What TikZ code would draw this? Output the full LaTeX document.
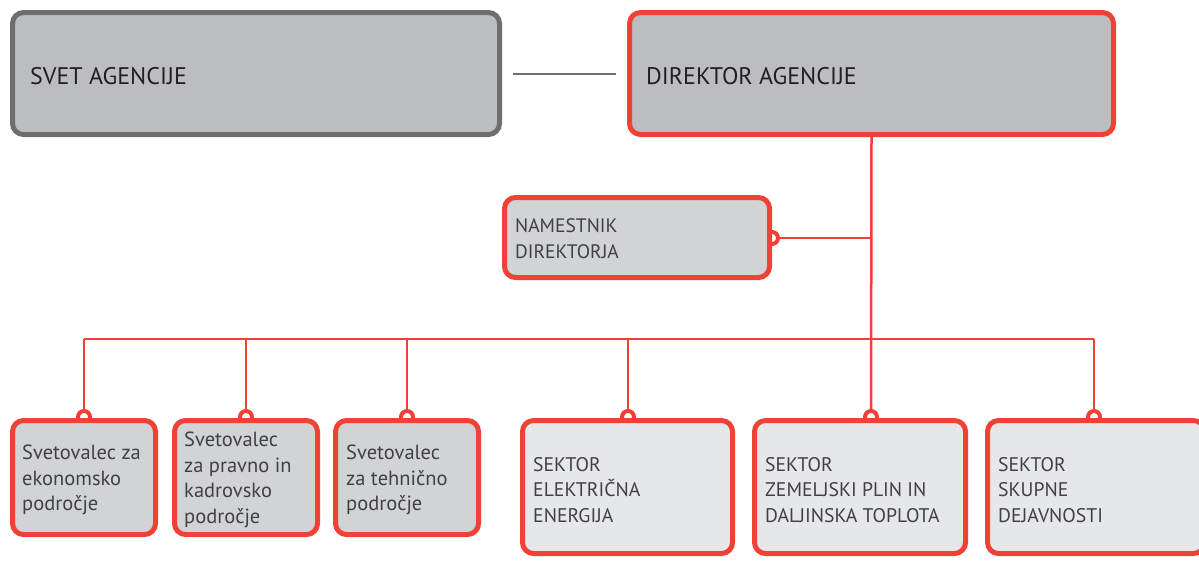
\documentclass[tikz,border=0pt]{standalone}
\usepackage{fontspec}
\setmainfont{PT Sans}
\usetikzlibrary{calc}
\pgfdeclarelayer{background}
\pgfsetlayers{background,main}
\definecolor{ared}{HTML}{EF4136}
\definecolor{agray}{HTML}{6D6E71}
\definecolor{fillA}{HTML}{BCBDC0}
\definecolor{fillB}{HTML}{D1D3D4}
\definecolor{fillC}{HTML}{E6E7E8}
\definecolor{txtA}{HTML}{231F20}
\definecolor{txtB}{HTML}{414042}
\begin{document}
\begin{tikzpicture}[x=1pt,y=-1pt,
  box/.style={rounded corners=11pt, line width=5pt, inner sep=0pt, anchor=center},
  topbox/.style={box, fill=fillA, minimum height=122pt},
  advbox/.style={box, draw=ared, fill=fillB, minimum width=143pt, minimum height=114pt},
  secbox/.style={box, draw=ared, fill=fillC, minimum height=133pt},
  lbl/.style={anchor=west, align=left, inner sep=0pt},
  toplbl/.style={lbl, font=\fontsize{24}{28}\selectfont, text=txtA},
  advlbl/.style={lbl, font=\fontsize{20.5}{25.5}\selectfont, text=txtB},
  seclbl/.style={lbl, font=\fontsize{19.7}{25.5}\selectfont, text=txtB},
  link/.style={draw=ared, line width=2.5pt},
  knob/.style={draw=ared, fill=white, line width=4pt}
]
\useasboundingbox (0,0) rectangle (1199,560);

% connector points
\coordinate (k1) at (84,417);
\coordinate (k2) at (246,417);
\coordinate (k3) at (407,417);
\coordinate (k4) at (628,417);
\coordinate (k5) at (871,417);
\coordinate (k6) at (1094,417);
\coordinate (kn) at (772,238);
\coordinate (busL) at (84,339);
\coordinate (busR) at (1094,339);
\coordinate (jn) at (871,238);

% boxes
\node[topbox, draw=agray, minimum width=487pt] (svet) at (256,73.5) {};
\node[topbox, draw=ared, minimum width=484pt] (dir) at (871.5,73.5) {};
\node[box, draw=ared, fill=fillB, minimum width=265pt, minimum height=80pt] (nam) at (637,237.5) {};
\node[advbox] (a1) at (84,477.5) {};
\node[advbox] (a2) at (246,477.5) {};
\node[advbox] (a3) at (407,477.5) {};
\node[secbox, minimum width=210pt] (s1) at (627.5,487) {};
\node[secbox, minimum width=211pt] (s2) at (860,487) {};
\node[secbox, minimum width=217pt] (s3) at (1096,487) {};

\begin{pgfonlayer}{background}
% lines
\draw[link] (dir.south) -- (k5);
\draw[link] (busL) -- (busR);
\draw[link] (kn) -- (jn);
\foreach \k in {k1,k2,k3,k4,k6} { \draw[link] (\k |- busL) -- (\k); }
\draw[draw=agray, line width=2pt] ($(svet.east)+(11,0)$) -- ($(dir.west)+(-11,0)$);
% knobs
\foreach \k in {k1,k2,k3,k4,k5,k6,kn} { \draw[knob] (\k) circle (6pt); }
\end{pgfonlayer}

% labels
\node[toplbl] (svett) at (30,76) {SVET AGENCIJE};
\node[toplbl] (dirt) at (646,76) {DIREKTOR AGENCIJE};
\node[lbl, font=\fontsize{19.5}{26}\selectfont, text=txtB] (namt) at (515,239) {NAMESTNIK\\DIREKTORJA};
\node[advlbl] (a1t) at (22,480) {Svetovalec za\\ekonomsko\\področje};
\node[advlbl] (a2t) at (184,480) {Svetovalec\\za pravno in\\kadrovsko\\področje};
\node[advlbl] (a3t) at (346,480) {Svetovalec\\za tehnično\\področje};
\node[seclbl] (s1t) at (533,490) {SEKTOR\\ELEKTRIČNA\\ENERGIJA};
\node[seclbl] (s2t) at (765,490) {SEKTOR\\ZEMELJSKI PLIN IN\\DALJINSKA TOPLOTA};
\node[seclbl] (s3t) at (998,490) {SEKTOR\\SKUPNE\\DEJAVNOSTI};
\end{tikzpicture}
\end{document}
